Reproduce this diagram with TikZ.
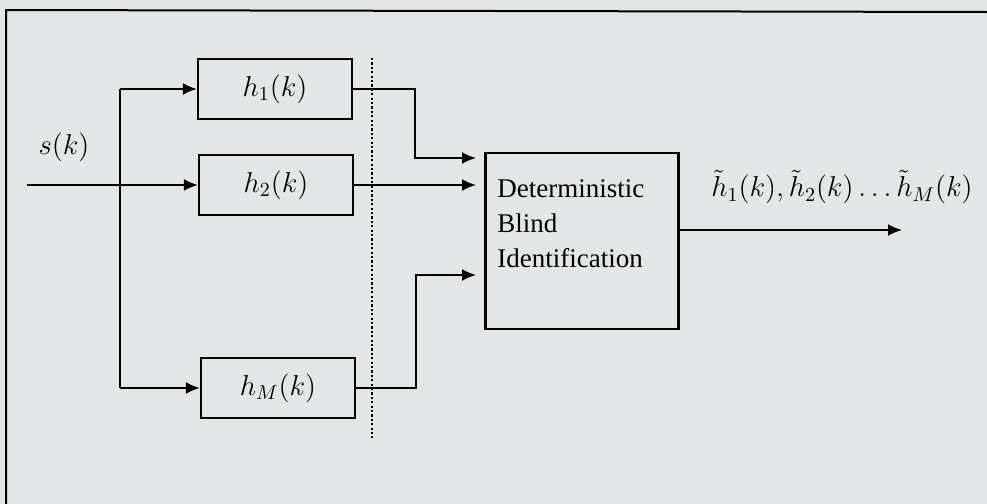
\documentclass[tikz,border=0pt]{standalone}
\usepackage{amsmath}
\usepackage{fontspec}
\setmainfont{Liberation Serif}
\usetikzlibrary{arrows.meta}
\definecolor{scanbg}{RGB}{227,230,230}
\tikzset{
  blockbox/.style={draw, line width=1.1pt, minimum width=77pt, minimum height=30pt, inner sep=0pt},
  sigline/.style={line width=1pt},
}

\begin{document}
\begin{tikzpicture}[x=0.5pt, y=-0.5pt, >={Latex[length=7pt,width=6pt]}, font=\fontsize{14}{17}\selectfont]
\fill[scanbg] (0,0) rectangle (987,504);
\useasboundingbox (0,0) rectangle (987,504);

% outer frame of the page figure
\draw[line width=1pt] (6,504) -- (6,10) -- (987,12);

\node[blockbox] (h1) at (275,89) {$h_1(k)$};
\node[blockbox] (h2) at (276,185) {$h_2(k)$};
\node[blockbox] (hM) at (278,388) {$h_M(k)$};

\node[draw, line width=1.1pt, minimum width=96.5pt, minimum height=88pt] (dbi) at (582,241) {};
\node[anchor=north west, inner sep=0pt, align=left, font=\fontsize{13.5}{17.5}\selectfont] (dbitxt) at (497,179) {Deterministic\\Blind\\Identification};

\node (s) at (64,147) {$s(k)$};
\node (hest) at (842,187) {$\tilde{h}_1(k), \tilde{h}_2(k) \ldots \tilde{h}_M(k)$};

\coordinate (sin) at (27,185);
\coordinate (tr1) at (120,89);
\coordinate (trM) at (120,388);
\coordinate (in1) at (486,158);
\coordinate (in2) at (486,185);
\coordinate (inM) at (486,275);
\coordinate (out) at (902,230);
\coordinate (dtop) at (372,58);
\coordinate (dbot) at (372,438);

\path[sigline]
(sin) edge[->] (h2)
(tr1) edge (trM)
(tr1) edge[->] (h1)
(trM) edge[->] (hM)
(h2) edge[->, shorten >=5pt] (in2)
(dbi.east |- out) edge[->] (out)
;

\draw[sigline, ->, shorten >=5pt] (h1.east) -- ++(62,0) |- (in1);
\draw[sigline, ->, shorten >=5pt] (hM.east) -- ++(60,0) |- (inM);

\draw[line width=1.4pt, dash pattern=on 1.1pt off 1.1pt] (dtop) -- (dbot);
\end{tikzpicture}
\end{document}
